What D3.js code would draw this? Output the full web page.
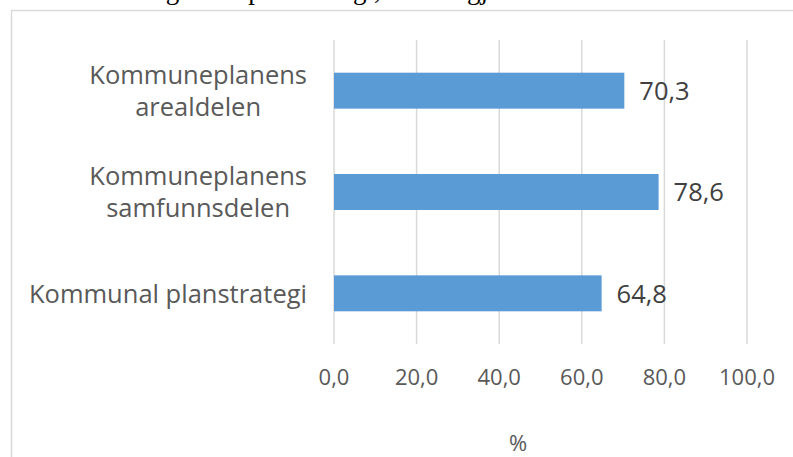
<!DOCTYPE html>
<html>
<head>
<meta charset="utf-8">
<script src="https://cdn.jsdelivr.net/npm/d3@7"></script>
<style>
  html, body { margin: 0; padding: 0; background: #fff; overflow: hidden; }
  svg { display: block; }
</style>
</head>
<body>
<svg id="chart" width="793" height="457"></svg>
<script>
// Categories, top to bottom; each label split into its display lines
const categories = ["Kommuneplanens arealdelen", "Kommuneplanens samfunnsdelen", "Kommunal planstrategi"];
const categoryLines = [["Kommuneplanens", "arealdelen"], ["Kommuneplanens", "samfunnsdelen"], ["Kommunal planstrategi"]];
const values = [70.3, 78.6, 64.8];
const xTicks = [0, 20, 40, 60, 80, 100];
const axisTitle = "%";
const precedingLine = "ser ut etter kategori av planstrategi, som er gjort her i tabellen under";

const fmt = v => d3.format(".1f")(v).replace(".", ",");

const svg = d3.select("#chart");
const W = 793, H = 457;
const font = "'Open Sans', 'Noto Sans', sans-serif";

// Line of running text from the surrounding document, above the frame
svg.append("text")
  .attr("x", 0).attr("y", -1)
  .attr("font-family", "'Liberation Serif', 'DejaVu Serif', serif")
  .attr("font-size", 27)
  .attr("fill", "#000")
  .text(precedingLine);

// Chart frame
svg.append("rect")
  .attr("x", 11.5).attr("y", 10.5)
  .attr("width", W).attr("height", H)
  .attr("fill", "none")
  .attr("stroke", "#d9d9d9")
  .attr("stroke-width", 1.5);

const plot = { left: 334, right: 747, top: 40, bottom: 344 };

const x = d3.scaleLinear().domain([0, 100]).range([plot.left, plot.right]);
const y = d3.scaleBand().domain(categories)
  .range([plot.top, plot.bottom])
  .paddingInner(0.645).paddingOuter(0.3225);

// Vertical gridlines
svg.append("g").selectAll("line").data(xTicks).join("line")
  .attr("x1", d => x(d)).attr("x2", d => x(d))
  .attr("y1", plot.top).attr("y2", plot.bottom)
  .attr("stroke", "#d9d9d9").attr("stroke-width", 1.5);

// Bars
svg.append("g").selectAll("rect").data(categories).join("rect")
  .attr("x", x(0))
  .attr("y", d => y(d))
  .attr("width", (d, i) => x(values[i]) - x(0))
  .attr("height", y.bandwidth())
  .attr("fill", "#5b9bd5");

// Value labels
svg.append("g").selectAll("text").data(categories).join("text")
  .attr("x", (d, i) => x(values[i]) + 15)
  .attr("y", d => y(d) + y.bandwidth() / 2)
  .attr("dy", "0.36em")
  .attr("font-family", font).attr("font-size", 25.5)
  .attr("fill", "#404040")
  .text((d, i) => fmt(values[i]));

// Category labels: block right-aligned to the axis, lines centred within the block
const labelRight = 307;
const lineH = 32;
categories.forEach((c, i) => {
  const lines = categoryLines[i];
  const g = svg.append("g");
  const cy = y(c) + y.bandwidth() / 2;
  const texts = lines.map((ln, j) => g.append("text")
    .attr("y", cy + (j - (lines.length - 1) / 2) * lineH)
    .attr("dy", "0.36em")
    .attr("text-anchor", "middle")
    .attr("font-family", font).attr("font-size", 25.5)
    .attr("fill", "#595959")
    .text(ln));
  const maxW = d3.max(texts, t => t.node().getComputedTextLength());
  texts.forEach(t => t.attr("x", labelRight - maxW / 2));
});

// X tick labels
svg.append("g").selectAll("text").data(xTicks).join("text")
  .attr("x", d => x(d))
  .attr("y", 377)
  .attr("dy", "0.36em")
  .attr("text-anchor", "middle")
  .attr("font-family", font).attr("font-size", 22)
  .attr("fill", "#595959")
  .text(d => fmt(d));

// Axis title
svg.append("text")
  .attr("x", 518).attr("y", 443)
  .attr("dy", "0.36em")
  .attr("text-anchor", "middle")
  .attr("font-family", font).attr("font-size", 22)
  .attr("fill", "#595959")
  .text(axisTitle);
</script>
</body>
</html>
